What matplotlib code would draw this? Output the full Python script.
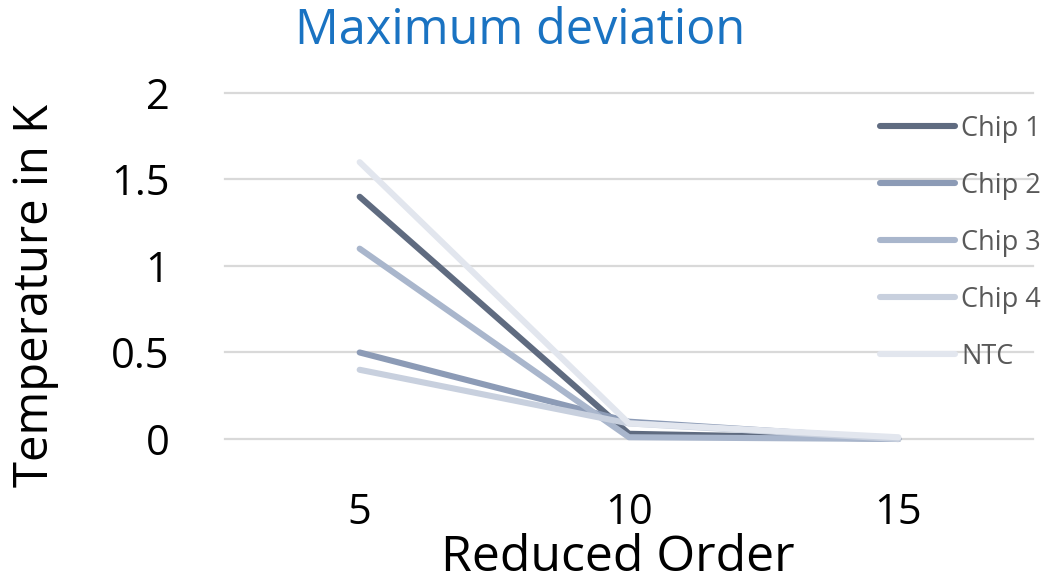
import matplotlib.pyplot as plt

# reduced model order vs. maximum temperature deviation
orders = [5, 10, 15]
chip1 = [1.4, 0.03, 0.0]
chip2 = [0.5, 0.1, 0.0]
chip3 = [1.1, 0.01, 0.0]
chip4 = [0.4, 0.09, 0.0]
ntc = [1.6, 0.09, 0.01]

series_names = ["Chip 1", "Chip 2", "Chip 3", "Chip 4", "NTC"]
series_vals = [chip1, chip2, chip3, chip4, ntc]
colors = ["#5f6b80", "#8c9bb6", "#a9b6cc", "#c8d0de", "#e2e6ee"]

yticks = [0, 0.5, 1, 1.5, 2]
ytick_labels = ["0", "0.5", "1", "1.5", "2"]

plt.rcParams['font.family'] = ['Open Sans', 'DejaVu Sans']

fig = plt.figure(figsize=(10.48, 5.85), dpi=100)
ax = fig.add_axes([0.2147, 0.2496, 0.771, 0.5915])

# categorical x positions, one slot per order
xpos = list(range(len(orders)))
for name, vals, c in zip(series_names, series_vals, colors):
    ax.plot(xpos, vals, color=c, lw=4.4, solid_capstyle='round',
            solid_joinstyle='round', label=name, clip_on=False, zorder=3)

ax.set_xlim(-0.5, len(orders) - 0.5)
ax.set_ylim(0, 2)
ax.set_xticks(xpos)
ax.set_xticklabels([str(o) for o in orders])
ax.set_yticks(yticks)
ax.set_yticklabels(ytick_labels)

ax.grid(axis='y', color='#d9d9d9', lw=1.6, zorder=0)
ax.grid(axis='x', visible=False)
for gl in ax.get_ygridlines():
    gl.set_clip_on(False)
for s in ax.spines.values():
    s.set_visible(False)

ax.tick_params(axis='both', length=0, labelsize=30, colors='black')
ax.tick_params(axis='y', pad=40)
ax.tick_params(axis='x', pad=38)

ax.set_xlabel("Reduced Order", fontsize=36, va='center')
ax.xaxis.set_label_coords(0.486, -0.344)
ax.set_ylabel("Temperature in K", fontsize=34, va='center')
ax.yaxis.set_label_coords(-0.235, 0.416)

fig.text(0.496, 0.925, "Maximum deviation", fontsize=35, color='#1a73c2',
         ha='center', va='baseline')

leg = ax.legend(loc='upper left', bbox_to_anchor=(0.829, 0.822),
                bbox_transform=fig.transFigure, frameon=False, fontsize=19.5,
                handlelength=2.8, handletextpad=0.2, labelspacing=1.07,
                borderaxespad=0)
for t in leg.get_texts():
    t.set_color('#595959')
for h in leg.legend_handles:
    h.set_linewidth(4.4)
    h.set_solid_capstyle('round')

fig.savefig("out.png", dpi=100)
